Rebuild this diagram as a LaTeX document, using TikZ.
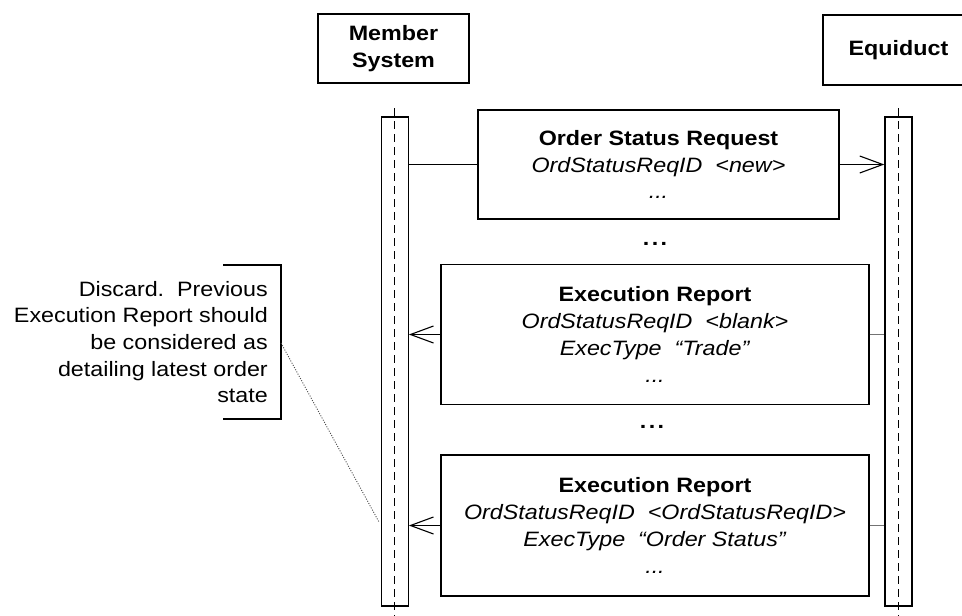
\documentclass[tikz,border=0pt]{standalone}
\usepackage{fontspec}
\setmainfont{Liberation Sans}[FakeStretch=1.12]
\usetikzlibrary{arrows.meta}
\newcommand\dfs{\fontsize{20.8}{26.7}\selectfont}
\begin{document}
\begin{tikzpicture}[x=1pt,y=-1pt,
  headbox/.style={draw=black, line width=1.1pt, minimum width=151pt, minimum height=69pt, inner sep=0pt, font=\dfs\bfseries, align=center},
  actbar/.style={draw=black, line width=1.3pt, minimum width=27pt, minimum height=489pt, inner sep=0pt},
  msgbox/.style={draw=black, line width=1.1pt, inner sep=0pt, align=center, font=\dfs},
  lifeline/.style={draw=black, line width=0.9pt, dash pattern=on 8pt off 5pt},
  msg/.style={draw=black, line width=1.1pt, -{Straight Barb[length=23pt,width=17pt,line width=1.1pt]}},
  msgtail/.style={draw=black, line width=1.1pt},
  rettail/.style={draw=black!55, line width=1.6pt},
  sepdots/.style={inner sep=0pt, font=\dfs\bfseries},
  notetext/.style={inner sep=0pt, align=right, font=\dfs, anchor=east},
  noteline/.style={draw=black!70, line width=0.9pt, dash pattern=on 1pt off 1.5pt}
]
\useasboundingbox (0,0) rectangle (962,616);
\clip (0,0) rectangle (962,616);

% headers
\node[headbox] (ms) at (393.5,48.5) {Member\\System};
\node[headbox, minimum height=70pt] (eq) at (898.5,50) {Equiduct};

% lifelines
\coordinate (lt1) at (394.5,108);
\coordinate (lb1) at (394.5,616);
\coordinate (lt2) at (898.5,108);
\coordinate (lb2) at (898.5,616);
\draw[lifeline] (lt1) -- (lb1);
\draw[lifeline] (lt2) -- (lb2);

% activation bars
\node[actbar] (barL) at (394.75,361.5) {};
\node[actbar] (barR) at (898.5,361.5) {};

% message boxes
\node[msgbox, minimum width=361pt, minimum height=109pt] (osr) at (658.5,164.5)
  {\textbf{Order Status Request}\\\textit{OrdStatusReqID\ \ <new>}\\\textit{...}};
\node[msgbox, minimum width=428pt, minimum height=140pt] (er1) at (655,334.5)
  {\textbf{Execution Report}\\\textit{OrdStatusReqID\ \ <blank>}\\\textit{ExecType\ \ “Trade”}\\\textit{...}};
\node[msgbox, minimum width=428pt, minimum height=141pt] (er2) at (655,525.5)
  {\textbf{Execution Report}\\\textit{OrdStatusReqID\ \ <OrdStatusReqID>}\\\textit{ExecType\ \ “Order Status”}\\\textit{...}};

% separators
\node[sepdots] (d1) at (655,244) {.\hspace{2.5pt}.\hspace{2.5pt}.};
\node[sepdots] (d2) at (652,427) {.\hspace{2.5pt}.\hspace{2.5pt}.};

% messages
\draw[msgtail] (osr.west -| barL.east) -- (osr.west);
\draw[msg] (osr.east) -- (osr.east -| barR.west);
\draw[rettail] (er1.east) -- (er1.east -| barR.west);
\draw[msg] (er1.west) -- (er1.west -| barL.east);
\draw[rettail] (er2.east) -- (er2.east -| barR.west);
\draw[msg] (er2.west) -- (er2.west -| barL.east);

% note
\coordinate (nA) at (223,265);
\coordinate (nB) at (281,265);
\coordinate (nC) at (281,419);
\coordinate (nD) at (223,419);
\draw[black, line width=1.1pt] (nA) -- (nB) -- (nC) -- (nD);
\node[notetext] (note) at (268,342)
  {Discard.\ \ Previous\\Execution Report should\\be considered as\\detailing latest order\\state};
\coordinate (nS) at (281,343);
\coordinate (nE) at (379,522);
\draw[noteline] (nS) -- (nE);
\end{tikzpicture}
\end{document}
